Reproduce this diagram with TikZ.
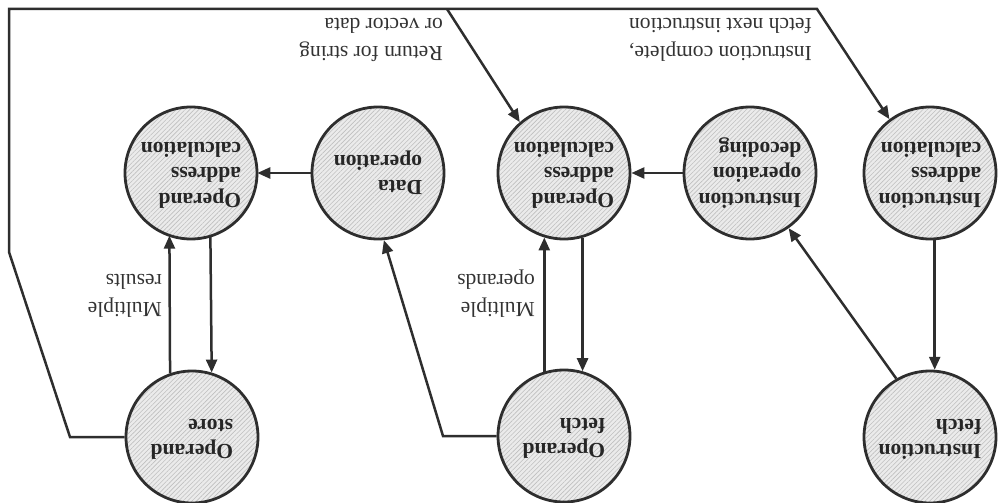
\documentclass[tikz,border=0pt]{standalone}
\usepackage{fontspec}
\setmainfont{Liberation Serif}
\usepackage{graphicx}
\usetikzlibrary{arrows.meta,patterns.meta}
\definecolor{ink}{HTML}{2E2E2E}
\newcommand{\flipbox}[1]{\rotatebox{180}{\begin{tabular}{@{}l@{}}#1\end{tabular}}}
\tikzset{
  state/.style={circle, draw=ink, line width=2.8pt, minimum size=132pt, inner sep=0pt,
    preaction={fill=gray!16},
    pattern={Lines[angle=45,distance=3.2pt,line width=0.6pt]}, pattern color=gray!50,
    font=\fontsize{21.5}{25.5}\selectfont\bfseries, text=black!85},
  lbl/.style={inner sep=0pt, font=\fontsize{21.5}{28}\selectfont, text=black!80},
  conn/.style={draw=ink, line width=2.5pt},
  arr/.style={conn, -{Triangle[length=13pt,width=11pt]}}
}
\begin{document}
\begin{tikzpicture}[x=1pt,y=-1pt]
\useasboundingbox (0,0) rectangle (1002,503);
% top row
\node[state] (calc1) at (191,173) {\flipbox{Operand\\address\\calculation}};
\node[state] (data)  at (378,173) {\flipbox{Data\\operation}};
\node[state] (calc2) at (564,173) {\flipbox{Operand\\address\\calculation}};
\node[state] (dec)   at (750,173) {\flipbox{Instruction\\operation\\decoding}};
\node[state] (iac)   at (930,173) {\flipbox{Instruction\\address\\calculation}};
% bottom row
\node[state] (ostore) at (192,437) {\flipbox{Operand\\store}};
\node[state] (ofetch) at (564,436) {\flipbox{Operand\\fetch}};
\node[state] (ifetch) at (930,437) {\flipbox{Instruction\\fetch}};
% labels
\node[lbl, anchor=east] (lcomplete) at (812,38) {\flipbox{Instruction complete,\\fetch next instruction}};
\node[lbl, anchor=east] (lreturn) at (443,38) {\flipbox{Return for string\\or vector data}};
\node[lbl, anchor=east] (lres) at (162,294) {\flipbox{Multiple\\results}};
\node[lbl, anchor=east] (lops) at (535,294) {\flipbox{Multiple\\operands}};
% helper coordinates
\coordinate (f1) at (443,436);
\coordinate (s1) at (70,437);
\coordinate (s2) at (9,252);
\coordinate (s3) at (9,9);
\coordinate (s4) at (817,9);
\coordinate (br) at (447,9);
% connectors
\draw[arr] (iac.274) -- (ifetch.86);
\draw[arr] (ifetch.120) -- (dec.305);
\draw[arr] (dec.west) -- (calc2.east);
\draw[arr] (calc2.286) -- (ofetch.74);
\draw[arr] (ofetch.107) -- (calc2.253);
\draw[arr] (ofetch.west) -- (f1) -- (data.275);
\draw[arr] (data.west) -- (calc1.east);
\draw[arr] (calc1.287) -- (ostore.73);
\draw[arr] (ostore.109) -- (calc1.251);
\draw[arr, line join=miter] (ostore.west) -- (s1) -- (s2) -- (s3) -- (s4) -- (iac.127);
\draw[arr] (br) -- (calc2.131);
\end{tikzpicture}
\end{document}
